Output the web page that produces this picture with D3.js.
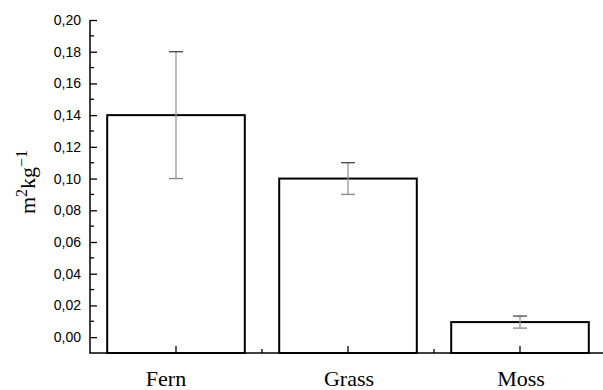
<!DOCTYPE html>
<html>
<head>
<meta charset="utf-8">
<script src="https://cdn.jsdelivr.net/npm/d3@7"></script>
<style>
  body { margin: 0; background: #fff; }
  svg { display: block; }
</style>
</head>
<body>
<div id="chart"></div>
<script>
// data
const categories = ['Fern', 'Grass', 'Moss'];
const values = [0.14, 0.10, 0.0095];
const errLow = [0.10, 0.09, 0.0057];
const errHigh = [0.18, 0.11, 0.0133];
const yMajorTicks = [0, 0.02, 0.04, 0.06, 0.08, 0.10, 0.12, 0.14, 0.16, 0.18, 0.20];
const yMinorTicks = [0.01, 0.03, 0.05, 0.07, 0.09, 0.11, 0.13, 0.15, 0.17, 0.19];

const W = 603, H = 390;
const mLeft = 90, mTop = 20, mBottom = 353;

const svg = d3.select('#chart').append('svg')
  .attr('width', W)
  .attr('height', H);

// bands are 172 wide; bar is 0.8 of that
const x = d3.scaleBand()
  .domain(categories)
  .range([mLeft, mLeft + 3 * 172])
  .paddingInner(0.2)
  .paddingOuter(0.1);
const step = x.step();

const y = d3.scaleLinear()
  .domain([-0.01, 0.20])
  .range([mBottom, mTop]);

// bars
svg.selectAll('rect.bar')
  .data(categories)
  .enter().append('rect')
  .attr('class', 'bar')
  .attr('x', d => x(d))
  .attr('y', (d, i) => y(values[i]))
  .attr('width', x.bandwidth())
  .attr('height', (d, i) => mBottom - y(values[i]))
  .style('fill', '#fff')
  .style('stroke', '#000')
  .style('stroke-width', 2);

// error bars
const cx = d => x(d) + x.bandwidth() / 2;
const eb = svg.append('g');
eb.selectAll('line.v')
  .data(categories)
  .enter().append('line')
  .attr('x1', cx).attr('x2', cx)
  .attr('y1', (d, i) => y(errHigh[i]))
  .attr('y2', (d, i) => y(errLow[i]))
  .style('stroke', '#999')
  .style('stroke-width', 1.3);
eb.selectAll('line.top')
  .data(categories)
  .enter().append('line')
  .attr('x1', d => cx(d) - 7).attr('x2', d => cx(d) + 7)
  .attr('y1', (d, i) => y(errHigh[i]))
  .attr('y2', (d, i) => y(errHigh[i]))
  .style('stroke', '#444')
  .style('stroke-width', 1.3);
eb.selectAll('line.bot')
  .data(categories)
  .enter().append('line')
  .attr('x1', d => cx(d) - 7).attr('x2', d => cx(d) + 7)
  .attr('y1', (d, i) => y(errLow[i]))
  .attr('y2', (d, i) => y(errLow[i]))
  .style('stroke', '#888')
  .style('stroke-width', 1.3);

// y axis: ticks pointing inward
const yAxis = svg.append('g')
  .attr('transform', 'translate(' + mLeft + ',0)')
  .call(d3.axisRight(y).tickValues(yMajorTicks).tickSize(7).tickFormat(d => d3.format('.2f')(d).replace('.', ',')));
yAxis.select('.domain').remove();
yAxis.selectAll('.tick line').style('stroke', '#000').style('stroke-width', 1.3);
yAxis.selectAll('.tick text')
  .attr('x', -9)
  .style('text-anchor', 'end')
  .style('font-family', '"Liberation Sans", Arial, sans-serif')
  .style('font-size', '14px')
  .style('fill', '#000');
svg.append('g')
  .attr('transform', 'translate(' + mLeft + ',0)')
  .selectAll('line')
  .data(yMinorTicks)
  .enter().append('line')
  .attr('x1', 0).attr('x2', 4)
  .attr('y1', d => y(d)).attr('y2', d => y(d))
  .style('stroke', '#000').style('stroke-width', 1.3);

// x axis
const xAxis = svg.append('g')
  .attr('transform', 'translate(0,' + mBottom + ')')
  .call(d3.axisTop(x).tickSize(7).tickFormat(''));
xAxis.select('.domain').remove();
xAxis.selectAll('.tick line').style('stroke', '#000').style('stroke-width', 1.3);
svg.append('g')
  .selectAll('line')
  .data(categories.slice(1))
  .enter().append('line')
  .attr('x1', d => x(d) - step * 0.1).attr('x2', d => x(d) - step * 0.1)
  .attr('y1', mBottom).attr('y2', mBottom - 4)
  .style('stroke', '#000').style('stroke-width', 1.3);

// category labels (Fern sits a bit left of its tick in the original)
svg.selectAll('text.cat')
  .data(categories)
  .enter().append('text')
  .attr('class', 'cat')
  .attr('x', (d, i) => cx(d) + (i === 0 ? -10 : 1))
  .attr('y', 386)
  .style('text-anchor', 'middle')
  .style('font-family', '"Liberation Serif", "Times New Roman", serif')
  .style('font-size', '22px')
  .text(d => d);

// axis lines
svg.append('line')
  .attr('x1', mLeft).attr('x2', mLeft)
  .attr('y1', y(0.20)).attr('y2', mBottom)
  .style('stroke', '#000').style('stroke-width', 1.5);
svg.append('line')
  .attr('x1', mLeft - 0.75).attr('x2', W)
  .attr('y1', mBottom).attr('y2', mBottom)
  .style('stroke', '#000').style('stroke-width', 1.5);

// y label
const yl = svg.append('text')
  .attr('transform', 'translate(35,182) rotate(-90)')
  .style('text-anchor', 'middle')
  .style('font-family', '"Liberation Serif", "Times New Roman", serif')
  .style('font-size', '22px');
yl.append('tspan').text('m');
yl.append('tspan').attr('dy', -8).style('font-size', '16px').text('2');
yl.append('tspan').attr('dy', 8).text('kg');
yl.append('tspan').attr('dy', -8).style('font-size', '16px').text('\u22121');
</script>
</body>
</html>
